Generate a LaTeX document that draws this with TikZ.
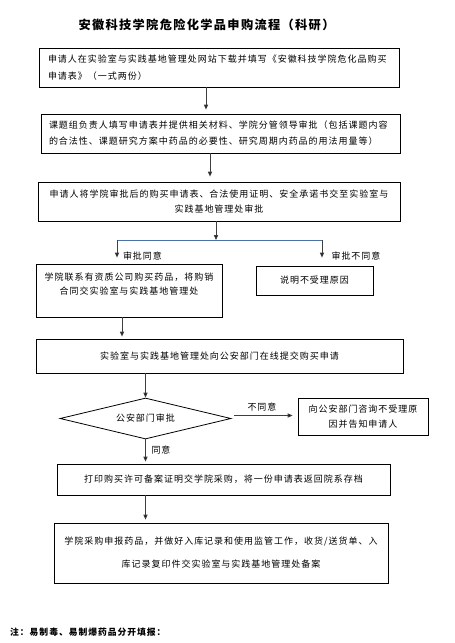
\documentclass[tikz,border=0pt]{standalone}
\usepackage{fontspec}
\usetikzlibrary{arrows.meta,shapes.geometric}
\newfontfamily\cjk{Noto Sans CJK SC}[LetterSpace=11]
\definecolor{arrgray}{HTML}{3F3F3F}
\definecolor{splitblue}{HTML}{4A72A8}
\tikzset{
  every node/.style={font=\cjk\fontsize{9}{16}\selectfont},
  box/.style={draw=black, line width=0.8pt, inner sep=0pt, align=center},
  arr/.style={draw=arrgray, line width=0.9pt, -{Triangle[length=5pt,width=4.2pt,fill=black]}},
  lbl/.style={inner sep=0pt},
}
\begin{document}
\begin{tikzpicture}[x=1pt,y=-1pt]
\useasboundingbox (0,0) rectangle (455,643);
\fill[white] (0,0) rectangle (455,643);

\node[lbl, font=\cjk\fontsize{12.2}{14}\selectfont\bfseries] (title) at (206.5,25) {安徽科技学院危险化学品申购流程（科研）};

\node[box, minimum width=360pt, minimum height=39pt, text width=342pt, align=left,
      font=\cjk\fontsize{9}{17}\selectfont] (b1) at (219,67.5)
  {申请人在实验室与实践基地管理处网站下载并填写《安徽科技学院危化品购买\\申请表》（一式两份）};

\node[box, minimum width=359pt, minimum height=39pt, text width=343pt, align=left,
      font=\cjk\fontsize{9}{16}\selectfont] (b2) at (220.5,133.5)
  {课题组负责人填写申请表并提供相关材料、学院分管领导审批（包括课题内容\\的合法性、课题研究方案中药品的必要性、研究周期内药品的用法用量等）};

\node[box, minimum width=362pt, minimum height=39pt,
      font=\cjk\fontsize{9}{15}\selectfont] (b3) at (219,201.5)
  {申请人将学院审批后的购买申请表、合法使用证明、安全承诺书交至实验室与\\实践基地管理处审批};

\node[box, minimum width=186pt, minimum height=53pt,
      font=\cjk\fontsize{9}{14}\selectfont] (b4) at (129,290.5)
  {学院联系有资质公司购买药品，将购销\\合同交实验室与实践基地管理处\\\mbox{}};

\node[box, minimum width=117pt, minimum height=29pt] (b5) at (314.5,280.5) {说明不受理原因};

\node[box, minimum width=367pt, minimum height=34pt] (b6) at (219.5,356) {实验室与实践基地管理处向公安部门在线提交购买申请};

\node[box, shape=diamond, aspect=4.2, minimum width=171pt, minimum height=41pt] (dia) at (145.5,418.5) {公安部门审批};

\node[box, minimum width=130pt, minimum height=37pt,
      font=\cjk\fontsize{9}{15}\selectfont] (b7) at (363,416.5)
  {向公安部门咨询不受理原\\因并告知申请人};

\node[box, minimum width=333pt, minimum height=31pt] (b8) at (223.5,479.5) {打印购买许可备案证明交学院采购，将一份申请表返回院系存档};

\node[box, minimum width=334pt, minimum height=60pt,
      font=\cjk\fontsize{9}{23}\selectfont] (b9) at (221,553)
  {学院采购申报药品，并做好入库记录和使用监管工作，收货/送货单、入\\库记录复印件交实验室与实践基地管理处备案};

\node[lbl, anchor=west, font=\cjk\fontsize{8.8}{10}\selectfont\bfseries] (note) at (10,632) {注：易制毒、易制爆药品分开填报：};

% connectors
\draw[arr, shorten >=4pt] ([xshift=-13pt]b1.south) -- ([xshift=-13pt]b1.south |- b2.north);
\draw[arr, shorten >=5pt] ([xshift=-10.5pt]b2.south) -- ([xshift=-10.5pt]b2.south |- b3.north);

\coordinate (sp) at (216,240);
\coordinate (spL) at (117,240);
\coordinate (spR) at (322,240);
\draw[arr] (sp |- b3.south) -- (sp);
\draw[draw=splitblue, line width=0.9pt] (spL) -- (spR);
\draw[arr, shorten >=6pt] (spL) -- (spL |- b4.north);
\draw[arr, shorten >=8pt] (spR) -- (spR |- b5.north);
\node[lbl] (l1) at (142.5,256) {审批同意};
\node[lbl] (l2) at (356,256) {审批不同意};

\draw[arr, shorten >=2pt] ([xshift=-7pt]b4.south) -- ([xshift=-7pt]b4.south |- b6.north);
\draw[arr] (dia.north |- b6.south) -- (dia.north);

\draw[arr, shorten <=3pt, shorten >=5pt] ([yshift=3pt]dia.east) -- ([yshift=3pt]dia.east -| b7.west);
\node[lbl] (l3) at (262,407) {不同意};

\draw[arr, shorten >=2pt] (dia.south) -- (dia.south |- b8.north);
\node[lbl] (l4) at (161,450) {同意};

\draw[arr, shorten >=3pt] (dia.south |- b8.south) -- (dia.south |- b9.north);
\end{tikzpicture}
\end{document}
